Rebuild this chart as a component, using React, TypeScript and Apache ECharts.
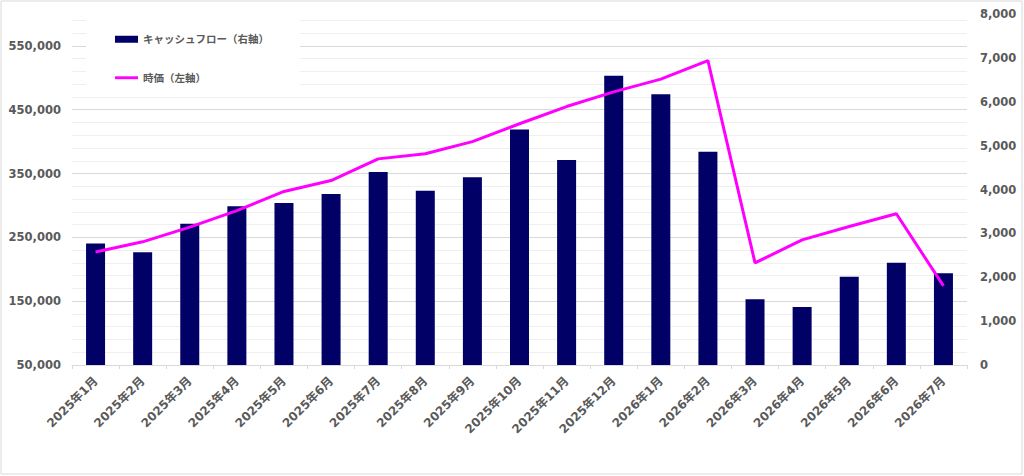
import React, { useEffect, useRef } from "react";
import * as echarts from "echarts";

const categories = [
  "2025年1月", "2025年2月", "2025年3月", "2025年4月", "2025年5月", "2025年6月",
  "2025年7月", "2025年8月", "2025年9月", "2025年10月", "2025年11月", "2025年12月",
  "2026年1月", "2026年2月", "2026年3月", "2026年4月", "2026年5月", "2026年6月", "2026年7月",
];

// キャッシュフロー（右軸）
const cashFlow = [
  2770, 2570, 3220, 3620, 3690, 3900, 4400, 3970, 4280, 5370, 4670, 6590,
  6170, 4860, 1500, 1320, 2010, 2330, 2090,
];

// 時価（左軸）
const marketValue = [
  227000, 243000, 266000, 292000, 322000, 339000, 373000, 381000, 400000, 428000,
  455000, 478000, 498000, 527000, 210000, 246000, 267000, 287000, 174000,
];

const seriesNames = ["キャッシュフロー（右軸）", "時価（左軸）"];

const leftMin = 50000;
const leftMax = 600000;
const leftLabelStep = 100000;
const leftGridStep = 20000;
const rightMin = 0;
const rightMax = 8000;
const rightStep = 1000;

const FONT = "'DejaVu Sans', 'Noto Sans CJK JP', sans-serif";
const TEXT = "#595959";

export default function App() {
  const ref = useRef<HTMLDivElement>(null);

  useEffect(() => {
    if (!ref.current) return;
    const chart = echarts.init(ref.current, null, { renderer: "svg" });
    chart.setOption({
      animation: false,
      backgroundColor: "#ffffff",
      textStyle: { fontFamily: FONT },
      grid: { left: 72, right: 57, top: 14, bottom: 111, outerBoundsMode: "none" },
      legend: {
        data: [
          { name: seriesNames[0], icon: "rect" },
          { name: seriesNames[1], icon: "path://M0 0H24V3H0Z" },
        ],
        orient: "vertical",
        left: 86,
        top: 14,
        itemGap: 28,
        itemWidth: 23,
        itemHeight: 7,
        padding: [20, 31, 13, 29],
        backgroundColor: "#ffffff",
        textStyle: { color: TEXT, fontWeight: "bold", fontSize: 10.5, fontFamily: FONT },
      },
      graphic: [
        {
          type: "rect",
          shape: { x: 1, y: 1, width: 1021, height: 473 },
          style: { fill: "none", stroke: "#d9d9d9", lineWidth: 1 },
          silent: true,
        },
      ],
      xAxis: {
        type: "category",
        data: categories,
        boundaryGap: true,
        axisLine: { lineStyle: { color: "#d9d9d9" } },
        axisTick: { show: true, length: 4, lineStyle: { color: "#d9d9d9" } },
        axisLabel: {
          rotate: 45,
          interval: 0,
          margin: 14,
          color: TEXT,
          fontWeight: "bold",
          fontSize: 12,
          fontFamily: FONT,
        },
        splitLine: { show: false },
      },
      yAxis: [
        {
          type: "value",
          position: "left",
          min: leftMin,
          max: leftMax,
          interval: leftGridStep,
          axisLine: { show: false },
          axisTick: { show: false },
          axisLabel: {
            margin: 11,
            color: TEXT,
            fontWeight: "bold",
            fontSize: 11.5,
            fontFamily: FONT,
            formatter: (v: number) =>
              v < leftMax && (v - leftMin) % leftLabelStep === 0 ? v.toLocaleString("en-US") : "",
          },
          splitLine: {
            show: true,
            showMaxLine: false,
            lineStyle: {
              color: ["#d9d9d9", "#efefef", "#efefef", "#efefef", "#efefef"],
              width: 1,
            },
          },
        },
        {
          type: "value",
          position: "right",
          min: rightMin,
          max: rightMax,
          interval: rightStep,
          axisLine: { show: false },
          axisTick: { show: false },
          axisLabel: {
            margin: 13,
            color: TEXT,
            fontWeight: "bold",
            fontSize: 11.5,
            fontFamily: FONT,
            formatter: (v: number) => v.toLocaleString("en-US"),
          },
          splitLine: { show: false },
        },
      ],
      series: [
        {
          name: seriesNames[0],
          type: "bar",
          yAxisIndex: 1,
          data: cashFlow,
          barWidth: 19,
          itemStyle: { color: "#000066" },
          z: 2,
        },
        {
          name: seriesNames[1],
          type: "line",
          yAxisIndex: 0,
          data: marketValue,
          symbol: "none",
          lineStyle: { color: "#ff00ff", width: 3 },
          itemStyle: { color: "#ff00ff" },
          z: 3,
        },
      ],
    });
    return () => chart.dispose();
  }, []);

  return (
    <div
      ref={ref}
      style={{ position: "absolute", left: 0, top: 0, width: 1024, height: 476 }}
    />
  );
}
